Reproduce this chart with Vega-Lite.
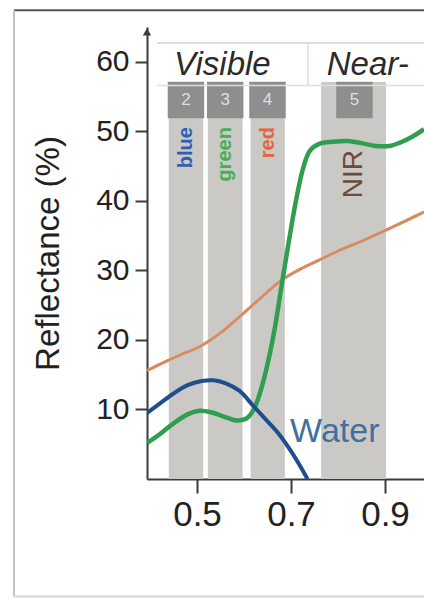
{
  "$schema": "https://vega.github.io/schema/vega-lite/v6.json",
  "width": 277,
  "height": 452,
  "autosize": {"type": "none"},
  "padding": {"left": 147, "top": 27, "right": 0, "bottom": 119},
  "background": "white",
  "config": {
    "view": {"stroke": null},
    "font": "Liberation Sans",
    "axis": {"domainColor": "#3a3a3a", "domainWidth": 2, "tickColor": "#3a3a3a", "tickWidth": 2, "labelColor": "#222222", "labelFont": "Liberation Sans", "titleFont": "Liberation Sans", "grid": false, "labelOverlap": false, "labelFlush": false},
    "axisX": {"tickSize": 14, "labelFontSize": 35, "labelPadding": 4},
    "axisY": {"tickSize": 12, "labelFontSize": 30, "labelPadding": 6, "titleFontSize": 33, "titleFontWeight": "normal", "titlePadding": 30, "titleColor": "#222222"}
  },
  "datasets": {
    "bands": [
      {"band": "2", "name": "blue", "lo": 0.44, "hi": 0.513, "mid": 0.4765},
      {"band": "3", "name": "green", "lo": 0.523, "hi": 0.597, "mid": 0.56},
      {"band": "4", "name": "red", "lo": 0.614, "hi": 0.687, "mid": 0.65},
      {"band": "5", "name": "NIR", "lo": 0.764, "hi": 0.902, "mid": 0.835}
    ],
    "curves": [
      {"cover": "Vegetation", "wl": 0.394, "refl": 5.2},
      {"cover": "Vegetation", "wl": 0.42, "refl": 6.4},
      {"cover": "Vegetation", "wl": 0.45, "refl": 8.0},
      {"cover": "Vegetation", "wl": 0.48, "refl": 9.3},
      {"cover": "Vegetation", "wl": 0.505, "refl": 9.8},
      {"cover": "Vegetation", "wl": 0.53, "refl": 9.6},
      {"cover": "Vegetation", "wl": 0.56, "refl": 8.9},
      {"cover": "Vegetation", "wl": 0.585, "refl": 8.4},
      {"cover": "Vegetation", "wl": 0.605, "refl": 8.7},
      {"cover": "Vegetation", "wl": 0.62, "refl": 9.9},
      {"cover": "Vegetation", "wl": 0.635, "refl": 12.6},
      {"cover": "Vegetation", "wl": 0.65, "refl": 16.5},
      {"cover": "Vegetation", "wl": 0.665, "refl": 21.5},
      {"cover": "Vegetation", "wl": 0.68, "refl": 27.8},
      {"cover": "Vegetation", "wl": 0.695, "refl": 34.0},
      {"cover": "Vegetation", "wl": 0.71, "refl": 39.8},
      {"cover": "Vegetation", "wl": 0.725, "refl": 44.5},
      {"cover": "Vegetation", "wl": 0.74, "refl": 47.2},
      {"cover": "Vegetation", "wl": 0.76, "refl": 48.2},
      {"cover": "Vegetation", "wl": 0.79, "refl": 48.5},
      {"cover": "Vegetation", "wl": 0.82, "refl": 48.6},
      {"cover": "Vegetation", "wl": 0.85, "refl": 48.3},
      {"cover": "Vegetation", "wl": 0.88, "refl": 47.9},
      {"cover": "Vegetation", "wl": 0.91, "refl": 47.9},
      {"cover": "Vegetation", "wl": 0.94, "refl": 48.6},
      {"cover": "Vegetation", "wl": 0.965, "refl": 49.5},
      {"cover": "Vegetation", "wl": 0.983, "refl": 50.3},
      {"cover": "Water", "wl": 0.394, "refl": 9.5},
      {"cover": "Water", "wl": 0.42, "refl": 10.8},
      {"cover": "Water", "wl": 0.45, "refl": 12.3},
      {"cover": "Water", "wl": 0.48, "refl": 13.5},
      {"cover": "Water", "wl": 0.51, "refl": 14.1},
      {"cover": "Water", "wl": 0.535, "refl": 14.2},
      {"cover": "Water", "wl": 0.56, "refl": 13.8},
      {"cover": "Water", "wl": 0.59, "refl": 12.7},
      {"cover": "Water", "wl": 0.62, "refl": 10.5},
      {"cover": "Water", "wl": 0.65, "refl": 8.3},
      {"cover": "Water", "wl": 0.675, "refl": 6.4},
      {"cover": "Water", "wl": 0.7, "refl": 4.0},
      {"cover": "Water", "wl": 0.72, "refl": 1.8},
      {"cover": "Water", "wl": 0.735, "refl": 0.0},
      {"cover": "Soil", "wl": 0.394, "refl": 15.6},
      {"cover": "Soil", "wl": 0.43, "refl": 16.8},
      {"cover": "Soil", "wl": 0.47, "refl": 18.0},
      {"cover": "Soil", "wl": 0.505, "refl": 19.0},
      {"cover": "Soil", "wl": 0.55, "refl": 21.0},
      {"cover": "Soil", "wl": 0.59, "refl": 23.3},
      {"cover": "Soil", "wl": 0.635, "refl": 26.0},
      {"cover": "Soil", "wl": 0.68, "refl": 28.6},
      {"cover": "Soil", "wl": 0.72, "refl": 30.2},
      {"cover": "Soil", "wl": 0.76, "refl": 31.5},
      {"cover": "Soil", "wl": 0.8, "refl": 32.8},
      {"cover": "Soil", "wl": 0.85, "refl": 34.2},
      {"cover": "Soil", "wl": 0.89, "refl": 35.4},
      {"cover": "Soil", "wl": 0.94, "refl": 37.0},
      {"cover": "Soil", "wl": 0.983, "refl": 38.4}
    ]
  },
  "layer": [
    {
      "data": {"name": "curves"},
      "transform": [{"filter": "datum.cover === 'Soil'"}],
      "mark": {"type": "line", "interpolate": "catmull-rom", "color": "#d98b60", "strokeWidth": 2.8, "clip": true},
      "encoding": {
        "x": {"field": "wl", "type": "quantitative", "scale": {"domain": [0.3936, 0.983], "nice": false, "zero": false}, "title": null, "axis": {"values": [0.5, 0.7, 0.9], "format": ".1f"}},
        "y": {"field": "refl", "type": "quantitative", "scale": {"domain": [0, 65], "nice": false}, "title": "Reflectance (%)", "axis": {"values": [10, 20, 30, 40, 50, 60]}}
      }
    },
    {
      "data": {"values": [{}]},
      "mark": {"type": "rule", "color": "#555555", "strokeWidth": 2},
      "encoding": {
        "x": {"datum": 0.1106, "type": "quantitative", "scale": {"domain": [0.3936, 0.983], "nice": false, "zero": false}, "title": null},
        "x2": {"datum": 0.99},
        "y": {"datum": 67.4, "type": "quantitative", "scale": {"domain": [0, 65], "nice": false}, "title": "Reflectance (%)"}
      }
    },
    {
      "data": {"values": [{}]},
      "mark": {"type": "rule", "color": "#c4c4c4", "strokeWidth": 2},
      "encoding": {
        "x": {"datum": 0.1106, "type": "quantitative", "scale": {"domain": [0.3936, 0.983], "nice": false, "zero": false}, "title": null},
        "y": {"datum": -16.9, "type": "quantitative", "scale": {"domain": [0, 65], "nice": false}, "title": "Reflectance (%)"},
        "y2": {"datum": 67.4}
      }
    },
    {
      "data": {"values": [{}]},
      "mark": {"type": "rule", "color": "#d6d6d6", "strokeWidth": 2},
      "encoding": {
        "x": {"datum": 0.1106, "type": "quantitative", "scale": {"domain": [0.3936, 0.983], "nice": false, "zero": false}, "title": null},
        "x2": {"datum": 0.99},
        "y": {"datum": -16.9, "type": "quantitative", "scale": {"domain": [0, 65], "nice": false}, "title": "Reflectance (%)"}
      }
    },
    {
      "data": {"name": "bands"},
      "mark": {"type": "rect", "color": "#cbc9c5"},
      "encoding": {
        "x": {"field": "lo", "type": "quantitative", "scale": {"domain": [0.3936, 0.983], "nice": false, "zero": false}, "title": null},
        "x2": {"field": "hi"},
        "y": {"datum": 0, "type": "quantitative", "scale": {"domain": [0, 65], "nice": false}, "title": "Reflectance (%)"},
        "y2": {"datum": 57.1}
      }
    },
    {
      "data": {"name": "bands"},
      "mark": {"type": "point", "shape": "square", "filled": true, "size": 1330, "color": "#8e8e8e", "opacity": 1},
      "encoding": {
        "x": {"field": "mid", "type": "quantitative", "scale": {"domain": [0.3936, 0.983], "nice": false, "zero": false}, "title": null},
        "y": {"datum": 54.5, "type": "quantitative", "scale": {"domain": [0, 65], "nice": false}, "title": "Reflectance (%)"}
      }
    },
    {
      "data": {"name": "bands"},
      "mark": {"type": "text", "fontSize": 17, "color": "#dedede", "baseline": "middle", "align": "center"},
      "encoding": {
        "x": {"field": "mid", "type": "quantitative", "scale": {"domain": [0.3936, 0.983], "nice": false, "zero": false}, "title": null},
        "y": {"datum": 54.5, "type": "quantitative", "scale": {"domain": [0, 65], "nice": false}, "title": "Reflectance (%)"},
        "text": {"field": "band"}
      }
    },
    {
      "data": {"name": "bands"},
      "transform": [{"filter": "datum.band !== '5'"}],
      "mark": {"type": "text", "fontSize": 20, "fontWeight": "bold", "angle": 270, "align": "right", "baseline": "middle"},
      "encoding": {
        "x": {"field": "mid", "type": "quantitative", "scale": {"domain": [0.3936, 0.983], "nice": false, "zero": false}, "title": null},
        "y": {"datum": 50.6, "type": "quantitative", "scale": {"domain": [0, 65], "nice": false}, "title": "Reflectance (%)"},
        "text": {"field": "name"},
        "color": {"field": "name", "type": "nominal", "scale": {"domain": ["blue", "green", "red", "NIR"], "range": ["#3060b0", "#44b055", "#e2653f", "#6e4a3c"]}, "legend": null}
      }
    },
    {
      "data": {"name": "bands"},
      "transform": [{"filter": "datum.band === '5'"}],
      "mark": {"type": "text", "fontSize": 28, "angle": 270, "align": "right", "baseline": "middle"},
      "encoding": {
        "x": {"field": "mid", "type": "quantitative", "scale": {"domain": [0.3936, 0.983], "nice": false, "zero": false}, "title": null},
        "y": {"datum": 47.3, "type": "quantitative", "scale": {"domain": [0, 65], "nice": false}, "title": "Reflectance (%)"},
        "text": {"field": "name"},
        "color": {"field": "name", "type": "nominal", "scale": {"domain": ["blue", "green", "red", "NIR"], "range": ["#3060b0", "#44b055", "#e2653f", "#6e4a3c"]}, "legend": null}
      }
    },
    {
      "data": {"values": [{}]},
      "mark": {"type": "rule", "color": "#d2d2d2", "strokeWidth": 1.5},
      "encoding": {
        "x": {"datum": 0.415, "type": "quantitative", "scale": {"domain": [0.3936, 0.983], "nice": false, "zero": false}, "title": null},
        "x2": {"datum": 0.99},
        "y": {"datum": 62.7, "type": "quantitative", "scale": {"domain": [0, 65], "nice": false}, "title": "Reflectance (%)"}
      }
    },
    {
      "data": {"values": [{}]},
      "mark": {"type": "rule", "color": "#e0e0e0", "strokeWidth": 1.5},
      "encoding": {
        "x": {"datum": 0.415, "type": "quantitative", "scale": {"domain": [0.3936, 0.983], "nice": false, "zero": false}, "title": null},
        "x2": {"datum": 0.99},
        "y": {"datum": 56.6, "type": "quantitative", "scale": {"domain": [0, 65], "nice": false}, "title": "Reflectance (%)"}
      }
    },
    {
      "data": {"values": [{}]},
      "mark": {"type": "rule", "color": "#cfcfcf", "strokeWidth": 1},
      "encoding": {
        "x": {"datum": 0.736, "type": "quantitative", "scale": {"domain": [0.3936, 0.983], "nice": false, "zero": false}, "title": null},
        "y": {"datum": 56.6, "type": "quantitative", "scale": {"domain": [0, 65], "nice": false}, "title": "Reflectance (%)"},
        "y2": {"datum": 62.7}
      }
    },
    {
      "data": {"values": [{}]},
      "mark": {"type": "text", "text": "Visible", "fontSize": 33, "fontStyle": "italic", "color": "#2b2b2b", "align": "center", "baseline": "middle"},
      "encoding": {
        "x": {"datum": 0.554, "type": "quantitative", "scale": {"domain": [0.3936, 0.983], "nice": false, "zero": false}, "title": null},
        "y": {"datum": 59.5, "type": "quantitative", "scale": {"domain": [0, 65], "nice": false}, "title": "Reflectance (%)"}
      }
    },
    {
      "data": {"values": [{}]},
      "mark": {"type": "text", "text": "Near-", "fontSize": 33, "fontStyle": "italic", "color": "#2b2b2b", "align": "left", "baseline": "middle"},
      "encoding": {
        "x": {"datum": 0.776, "type": "quantitative", "scale": {"domain": [0.3936, 0.983], "nice": false, "zero": false}, "title": null},
        "y": {"datum": 59.6, "type": "quantitative", "scale": {"domain": [0, 65], "nice": false}, "title": "Reflectance (%)"}
      }
    },
    {
      "data": {"name": "curves"},
      "transform": [{"filter": "datum.cover === 'Soil'"}],
      "mark": {"type": "line", "interpolate": "catmull-rom", "color": "#d98b60", "strokeWidth": 2.8, "clip": true},
      "encoding": {
        "x": {"field": "wl", "type": "quantitative", "scale": {"domain": [0.3936, 0.983], "nice": false, "zero": false}, "title": null},
        "y": {"field": "refl", "type": "quantitative", "scale": {"domain": [0, 65], "nice": false}, "title": "Reflectance (%)"}
      }
    },
    {
      "data": {"name": "curves"},
      "transform": [{"filter": "datum.cover === 'Vegetation'"}],
      "mark": {"type": "line", "interpolate": "catmull-rom", "color": "#2f9e4f", "strokeWidth": 4.5, "clip": true},
      "encoding": {
        "x": {"field": "wl", "type": "quantitative", "scale": {"domain": [0.3936, 0.983], "nice": false, "zero": false}, "title": null},
        "y": {"field": "refl", "type": "quantitative", "scale": {"domain": [0, 65], "nice": false}, "title": "Reflectance (%)"}
      }
    },
    {
      "data": {"name": "curves"},
      "transform": [{"filter": "datum.cover === 'Water'"}],
      "mark": {"type": "line", "interpolate": "catmull-rom", "color": "#1f4e8c", "strokeWidth": 4, "clip": true},
      "encoding": {
        "x": {"field": "wl", "type": "quantitative", "scale": {"domain": [0.3936, 0.983], "nice": false, "zero": false}, "title": null},
        "y": {"field": "refl", "type": "quantitative", "scale": {"domain": [0, 65], "nice": false}, "title": "Reflectance (%)"}
      }
    },
    {
      "data": {"values": [{}]},
      "mark": {"type": "text", "text": "Water", "fontSize": 34, "color": "#41709f", "align": "left", "baseline": "middle"},
      "encoding": {
        "x": {"datum": 0.698, "type": "quantitative", "scale": {"domain": [0.3936, 0.983], "nice": false, "zero": false}, "title": null},
        "y": {"datum": 6.8, "type": "quantitative", "scale": {"domain": [0, 65], "nice": false}, "title": "Reflectance (%)"}
      }
    },
    {
      "data": {"values": [{}]},
      "mark": {"type": "point", "shape": "triangle-up", "filled": true, "size": 70, "color": "#3a3a3a", "opacity": 1},
      "encoding": {
        "x": {"datum": 0.3936, "type": "quantitative", "scale": {"domain": [0.3936, 0.983], "nice": false, "zero": false}, "title": null},
        "y": {"datum": 64.3, "type": "quantitative", "scale": {"domain": [0, 65], "nice": false}, "title": "Reflectance (%)"}
      }
    }
  ]
}
